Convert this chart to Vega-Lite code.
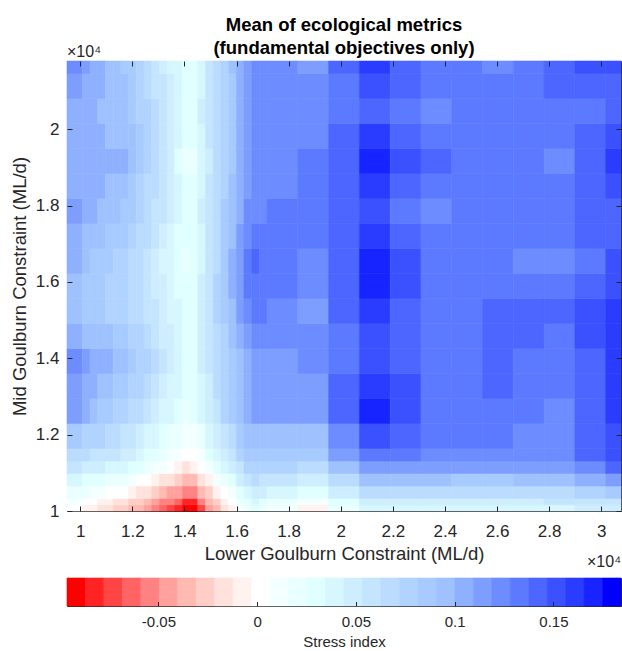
{
  "$schema": "https://vega.github.io/schema/vega-lite/v6.json",
  "background": "white",
  "padding": {"left": 9, "top": 15, "right": 0, "bottom": 0},
  "config": {
    "font": "Liberation Sans",
    "view": {"stroke": "#262626", "strokeWidth": 1},
    "axis": {"domain": false, "grid": false, "zindex": 2, "offset": -5, "tickColor": "#262626", "tickSize": 5, "tickWidth": 1, "labelColor": "#262626", "labelFont": "Liberation Sans", "labelFontSize": 17, "titleFont": "Liberation Sans", "titleFontSize": 18.5, "titleFontWeight": "normal", "titleColor": "#262626"}
  },
  "datasets": {
    "grid": [
      {"y0": 10000, "y1": 10164, "x0": [9490,10081,10376,10672,10967,11263,11558,11854,12149,12444,12740,13035,13331,13626,13922,14217,14513,14808,15104,15399,15695,15990,16285,16581,16876,17171,18353,19535,20717,21898,23080,24262,25443,26625,27807,28989,30170], "x1": [10081,10376,10672,10967,11263,11558,11854,12149,12444,12740,13035,13331,13626,13922,14217,14513,14808,15104,15399,15695,15990,16285,16581,16876,17171,18353,19535,20717,21898,23080,24262,25443,26625,27807,28989,30170,30760], "band": [10,9,9,8,8,7,7,6,6,5,4,3,2,1,0,0,2,5,6,8,9,11,12,13,12,11,9,12,14,14,14,14,14,14,14,15,15]},
      {"y0": 10164, "y1": 10328, "x0": [9490,10081,10376,10672,10967,11263,11558,11854,12149,12444,12740,13035,13331,13626,13922,14217,14513,14808,15104,15399,15695,15990,16285,16581,16876,17171,18353,19535,20717,21898,23080,24262,25443,26625,27807,28989,30170], "x1": [10081,10376,10672,10967,11263,11558,11854,12149,12444,12740,13035,13331,13626,13922,14217,14513,14808,15104,15399,15695,15990,16285,16581,16876,17171,18353,19535,20717,21898,23080,24262,25443,26625,27807,28989,30170,30760], "band": [11,10,10,9,9,8,8,7,7,6,5,4,4,3,1,1,4,6,7,9,10,12,13,14,13,12,11,13,15,15,15,15,15,15,16,16,16]},
      {"y0": 10328, "y1": 10655, "x0": [9490,10081,10376,10672,10967,11263,11558,11854,12149,12444,12740,13035,13331,13626,13922,14217,14513,14808,15104,15399,15695,15990,16285,16581,16876,17171,18353,19535,20717,21898,23080,24262,25443,26625,27807,28989,30170], "x1": [10081,10376,10672,10967,11263,11558,11854,12149,12444,12740,13035,13331,13626,13922,14217,14513,14808,15104,15399,15695,15990,16285,16581,16876,17171,18353,19535,20717,21898,23080,24262,25443,26625,27807,28989,30170,30760], "band": [12,12,11,11,10,10,10,9,8,8,7,6,5,5,4,4,6,7,9,10,11,13,14,15,15,14,13,15,17,17,17,17,17,17,17,18,19]},
      {"y0": 10655, "y1": 10983, "x0": [9490,10081,10376,10672,10967,11263,11558,11854,12149,12444,12740,13035,13331,13626,13922,14217,14513,14808,15104,15399,15695,15990,16285,16581,16876,17171,18353,19535,20717,21898,23080,24262,25443,26625,27807,28989,30170], "x1": [10081,10376,10672,10967,11263,11558,11854,12149,12444,12740,13035,13331,13626,13922,14217,14513,14808,15104,15399,15695,15990,16285,16581,16876,17171,18353,19535,20717,21898,23080,24262,25443,26625,27807,28989,30170,30760], "band": [14,13,13,13,12,12,12,11,10,10,9,8,8,7,6,6,8,9,11,12,13,15,16,17,16,16,15,17,20,20,20,19,19,20,20,21,22]},
      {"y0": 10983, "y1": 11310, "x0": [9490,10081,10376,10672,10967,11263,11558,11854,12149,12444,12740,13035,13331,13626,13922,14217,14513,14808,15104,15399,15695,15990,16285,16581,16876,17171,18353,19535,20717,21898,23080,24262,25443,26625,27807,28989,30170], "x1": [10081,10376,10672,10967,11263,11558,11854,12149,12444,12740,13035,13331,13626,13922,14217,14513,14808,15104,15399,15695,15990,16285,16581,16876,17171,18353,19535,20717,21898,23080,24262,25443,26625,27807,28989,30170,30760], "band": [16,15,15,15,14,14,14,13,13,12,11,11,10,9,8,9,10,11,13,14,15,16,18,18,18,18,17,20,22,22,22,22,22,22,22,23,25]},
      {"y0": 11310, "y1": 11638, "x0": [9490,10081,10376,10672,10967,11263,11558,11854,12149,12444,12740,13035,13331,13626,13922,14217,14513,14808,15104,15399,15695,15990,16285,16581,16876,17171,18353,19535,20717,21898,23080,24262,25443,26625,27807,28989,30170], "x1": [10081,10376,10672,10967,11263,11558,11854,12149,12444,12740,13035,13331,13626,13922,14217,14513,14808,15104,15399,15695,15990,16285,16581,16876,17171,18353,19535,20717,21898,23080,24262,25443,26625,27807,28989,30170,30760], "band": [17,17,16,16,16,16,15,15,14,13,13,12,11,11,10,10,11,13,14,15,16,18,19,19,19,19,19,22,24,24,23,23,23,23,23,25,26]},
      {"y0": 11638, "y1": 12293, "x0": [9490,10081,10376,10672,10967,11263,11558,11854,12149,12444,12740,13035,13331,13626,13922,14217,14513,14808,15104,15399,15695,15990,16285,16581,16876,17171,18353,19535,20717,21898,23080,24262,25443,26625,27807,28989,30170], "x1": [10081,10376,10672,10967,11263,11558,11854,12149,12444,12740,13035,13331,13626,13922,14217,14513,14808,15104,15399,15695,15990,16285,16581,16876,17171,18353,19535,20717,21898,23080,24262,25443,26625,27807,28989,30170,30760], "band": [19,18,18,18,17,17,16,16,15,14,14,13,12,12,11,11,12,14,15,16,17,19,20,20,20,20,20,23,26,25,24,24,24,23,23,25,26]},
      {"y0": 12293, "y1": 12948, "x0": [9490,10081,10376,10672,10967,11263,11558,11854,12149,12444,12740,13035,13331,13626,13922,14217,14513,14808,15104,15399,15695,15990,16285,16581,16876,17171,18353,19535,20717,21898,23080,24262,25443,26625,27807,28989,30170], "x1": [10081,10376,10672,10967,11263,11558,11854,12149,12444,12740,13035,13331,13626,13922,14217,14513,14808,15104,15399,15695,15990,16285,16581,16876,17171,18353,19535,20717,21898,23080,24262,25443,26625,27807,28989,30170,30760], "band": [22,21,20,19,19,18,18,17,17,16,15,14,14,13,12,13,14,15,16,18,19,20,21,22,22,22,22,25,28,26,24,24,24,24,23,25,27]},
      {"y0": 12948, "y1": 13603, "x0": [9490,10081,10376,10672,10967,11263,11558,11854,12149,12444,12740,13035,13331,13626,13922,14217,14513,14808,15104,15399,15695,15990,16285,16581,16876,17171,18353,19535,20717,21898,23080,24262,25443,26625,27807,28989,30170], "x1": [10081,10376,10672,10967,11263,11558,11854,12149,12444,12740,13035,13331,13626,13922,14217,14513,14808,15104,15399,15695,15990,16285,16581,16876,17171,18353,19535,20717,21898,23080,24262,25443,26625,27807,28989,30170,30760], "band": [22,21,21,20,20,19,19,18,18,17,16,15,14,14,13,13,14,15,17,18,19,20,21,22,22,22,22,25,27,26,24,24,25,24,24,25,27]},
      {"y0": 13603, "y1": 14258, "x0": [9490,10081,10376,10672,10967,11263,11558,11854,12149,12444,12740,13035,13331,13626,13922,14217,14513,14808,15104,15399,15695,15990,16285,16581,16876,17171,18353,19535,20717,21898,23080,24262,25443,26625,27807,28989,30170], "x1": [10081,10376,10672,10967,11263,11558,11854,12149,12444,12740,13035,13331,13626,13922,14217,14513,14808,15104,15399,15695,15990,16285,16581,16876,17171,18353,19535,20717,21898,23080,24262,25443,26625,27807,28989,30170,30760], "band": [23,22,21,21,21,20,20,19,18,18,17,16,15,14,13,13,15,16,17,18,19,20,21,22,22,22,23,24,26,25,24,24,25,24,24,25,27]},
      {"y0": 14258, "y1": 14913, "x0": [9490,10081,10376,10672,10967,11263,11558,11854,12149,12444,12740,13035,13331,13626,13922,14217,14513,14808,15104,15399,15695,15990,16285,16581,16876,17171,18353,19535,20717,21898,23080,24262,25443,26625,27807,28989,30170], "x1": [10081,10376,10672,10967,11263,11558,11854,12149,12444,12740,13035,13331,13626,13922,14217,14513,14808,15104,15399,15695,15990,16285,16581,16876,17171,18353,19535,20717,21898,23080,24262,25443,26625,27807,28989,30170,30760], "band": [21,20,20,20,20,19,19,18,18,17,16,15,15,14,13,13,15,16,17,18,20,21,22,23,23,23,23,24,26,25,24,24,25,25,24,26,27]},
      {"y0": 14913, "y1": 15568, "x0": [9490,10081,10376,10672,10967,11263,11558,11854,12149,12444,12740,13035,13331,13626,13922,14217,14513,14808,15104,15399,15695,15990,16285,16581,16876,17171,18353,19535,20717,21898,23080,24262,25443,26625,27807,28989,30170], "x1": [10081,10376,10672,10967,11263,11558,11854,12149,12444,12740,13035,13331,13626,13922,14217,14513,14808,15104,15399,15695,15990,16285,16581,16876,17171,18353,19535,20717,21898,23080,24262,25443,26625,27807,28989,30170,30760], "band": [20,19,19,19,18,18,18,17,17,16,16,15,14,14,13,13,15,16,18,19,20,22,23,24,24,23,22,25,27,25,24,24,25,25,25,26,27]},
      {"y0": 15568, "y1": 16223, "x0": [9490,10081,10376,10672,10967,11263,11558,11854,12149,12444,12740,13035,13331,13626,13922,14217,14513,14808,15104,15399,15695,15990,16285,16581,16876,17171,18353,19535,20717,21898,23080,24262,25443,26625,27807,28989,30170], "x1": [10081,10376,10672,10967,11263,11558,11854,12149,12444,12740,13035,13331,13626,13922,14217,14513,14808,15104,15399,15695,15990,16285,16581,16876,17171,18353,19535,20717,21898,23080,24262,25443,26625,27807,28989,30170,30760], "band": [20,19,19,19,18,18,18,17,17,16,15,15,14,13,13,13,15,16,18,19,21,22,24,24,24,24,23,25,28,26,24,24,24,24,24,25,26]},
      {"y0": 16223, "y1": 16878, "x0": [9490,10081,10376,10672,10967,11263,11558,11854,12149,12444,12740,13035,13331,13626,13922,14217,14513,14808,15104,15399,15695,15990,16285,16581,16876,17171,18353,19535,20717,21898,23080,24262,25443,26625,27807,28989,30170], "x1": [10081,10376,10672,10967,11263,11558,11854,12149,12444,12740,13035,13331,13626,13922,14217,14513,14808,15104,15399,15695,15990,16285,16581,16876,17171,18353,19535,20717,21898,23080,24262,25443,26625,27807,28989,30170,30760], "band": [21,20,19,19,19,18,18,17,17,16,15,14,14,13,12,13,14,16,17,19,21,22,24,25,24,24,23,25,28,26,24,24,24,23,23,24,26]},
      {"y0": 16878, "y1": 17533, "x0": [9490,10081,10376,10672,10967,11263,11558,11854,12149,12444,12740,13035,13331,13626,13922,14217,14513,14808,15104,15399,15695,15990,16285,16581,16876,17171,18353,19535,20717,21898,23080,24262,25443,26625,27807,28989,30170], "x1": [10081,10376,10672,10967,11263,11558,11854,12149,12444,12740,13035,13331,13626,13922,14217,14513,14808,15104,15399,15695,15990,16285,16581,16876,17171,18353,19535,20717,21898,23080,24262,25443,26625,27807,28989,30170,30760], "band": [21,20,20,20,19,19,19,18,17,17,16,15,14,13,13,13,14,16,17,19,20,22,23,24,24,24,24,25,27,25,24,24,24,24,24,25,25]},
      {"y0": 17533, "y1": 18188, "x0": [9490,10081,10376,10672,10967,11263,11558,11854,12149,12444,12740,13035,13331,13626,13922,14217,14513,14808,15104,15399,15695,15990,16285,16581,16876,17171,18353,19535,20717,21898,23080,24262,25443,26625,27807,28989,30170], "x1": [10081,10376,10672,10967,11263,11558,11854,12149,12444,12740,13035,13331,13626,13922,14217,14513,14808,15104,15399,15695,15990,16285,16581,16876,17171,18353,19535,20717,21898,23080,24262,25443,26625,27807,28989,30170,30760], "band": [22,21,21,20,20,20,19,19,18,17,16,16,15,14,13,13,15,16,17,19,20,21,23,23,23,24,24,25,26,24,23,24,24,24,24,25,25]},
      {"y0": 18188, "y1": 18843, "x0": [9490,10081,10376,10672,10967,11263,11558,11854,12149,12444,12740,13035,13331,13626,13922,14217,14513,14808,15104,15399,15695,15990,16285,16581,16876,17171,18353,19535,20717,21898,23080,24262,25443,26625,27807,28989,30170], "x1": [10081,10376,10672,10967,11263,11558,11854,12149,12444,12740,13035,13331,13626,13922,14217,14513,14808,15104,15399,15695,15990,16285,16581,16876,17171,18353,19535,20717,21898,23080,24262,25443,26625,27807,28989,30170,30760], "band": [21,21,21,21,20,20,20,19,18,17,17,16,15,14,13,13,14,16,17,18,20,21,22,23,23,23,24,25,27,25,24,24,24,24,24,25,26]},
      {"y0": 18843, "y1": 19498, "x0": [9490,10081,10376,10672,10967,11263,11558,11854,12149,12444,12740,13035,13331,13626,13922,14217,14513,14808,15104,15399,15695,15990,16285,16581,16876,17171,18353,19535,20717,21898,23080,24262,25443,26625,27807,28989,30170], "x1": [10081,10376,10672,10967,11263,11558,11854,12149,12444,12740,13035,13331,13626,13922,14217,14513,14808,15104,15399,15695,15990,16285,16581,16876,17171,18353,19535,20717,21898,23080,24262,25443,26625,27807,28989,30170,30760], "band": [21,21,21,21,21,21,21,20,19,18,17,16,15,13,12,12,14,15,17,18,19,21,22,23,23,23,24,25,28,26,25,24,24,24,23,25,27]},
      {"y0": 19498, "y1": 20153, "x0": [9490,10081,10376,10672,10967,11263,11558,11854,12149,12444,12740,13035,13331,13626,13922,14217,14513,14808,15104,15399,15695,15990,16285,16581,16876,17171,18353,19535,20717,21898,23080,24262,25443,26625,27807,28989,30170], "x1": [10081,10376,10672,10967,11263,11558,11854,12149,12444,12740,13035,13331,13626,13922,14217,14513,14808,15104,15399,15695,15990,16285,16581,16876,17171,18353,19535,20717,21898,23080,24262,25443,26625,27807,28989,30170,30760], "band": [21,21,21,21,20,20,20,20,19,18,17,16,15,14,13,13,14,16,17,18,19,21,22,23,23,23,23,25,27,25,24,24,24,24,24,25,26]},
      {"y0": 20153, "y1": 20808, "x0": [9490,10081,10376,10672,10967,11263,11558,11854,12149,12444,12740,13035,13331,13626,13922,14217,14513,14808,15104,15399,15695,15990,16285,16581,16876,17171,18353,19535,20717,21898,23080,24262,25443,26625,27807,28989,30170], "x1": [10081,10376,10672,10967,11263,11558,11854,12149,12444,12740,13035,13331,13626,13922,14217,14513,14808,15104,15399,15695,15990,16285,16581,16876,17171,18353,19535,20717,21898,23080,24262,25443,26625,27807,28989,30170,30760], "band": [21,21,21,20,20,20,20,19,18,18,17,16,15,14,13,13,15,16,17,18,19,21,22,23,23,23,23,24,25,24,23,24,24,24,24,24,25]},
      {"y0": 20808, "y1": 21463, "x0": [9490,10081,10376,10672,10967,11263,11558,11854,12149,12444,12740,13035,13331,13626,13922,14217,14513,14808,15104,15399,15695,15990,16285,16581,16876,17171,18353,19535,20717,21898,23080,24262,25443,26625,27807,28989,30170], "x1": [10081,10376,10672,10967,11263,11558,11854,12149,12444,12740,13035,13331,13626,13922,14217,14513,14808,15104,15399,15695,15990,16285,16581,16876,17171,18353,19535,20717,21898,23080,24262,25443,26625,27807,28989,30170,30760], "band": [22,21,21,21,20,20,20,19,18,17,16,16,15,14,13,13,14,16,17,18,19,21,22,23,23,23,23,24,26,25,24,24,24,24,25,25,25]},
      {"y0": 21463, "y1": 21790, "x0": [9490,10081,10376,10672,10967,11263,11558,11854,12149,12444,12740,13035,13331,13626,13922,14217,14513,14808,15104,15399,15695,15990,16285,16581,16876,17171,18353,19535,20717,21898,23080,24262,25443,26625,27807,28989,30170], "x1": [10081,10376,10672,10967,11263,11558,11854,12149,12444,12740,13035,13331,13626,13922,14217,14513,14808,15104,15399,15695,15990,16285,16581,16876,17171,18353,19535,20717,21898,23080,24262,25443,26625,27807,28989,30170,30760], "band": [23,22,21,21,20,20,19,19,18,17,16,15,14,14,13,13,14,16,17,18,20,21,22,23,23,23,22,25,27,25,24,24,23,24,25,26,26]}
    ],
    "bands": [
      {"band": 0, "from": -0.0963, "to": -0.08695, "level": -0.0916},
      {"band": 1, "from": -0.08695, "to": -0.0776, "level": -0.0823},
      {"band": 2, "from": -0.0776, "to": -0.06825, "level": -0.0729},
      {"band": 3, "from": -0.06825, "to": -0.0589, "level": -0.0636},
      {"band": 4, "from": -0.0589, "to": -0.04955, "level": -0.0542},
      {"band": 5, "from": -0.04955, "to": -0.0402, "level": -0.0449},
      {"band": 6, "from": -0.0402, "to": -0.03085, "level": -0.0355},
      {"band": 7, "from": -0.03085, "to": -0.0215, "level": -0.0262},
      {"band": 8, "from": -0.0215, "to": -0.01215, "level": -0.0168},
      {"band": 9, "from": -0.01215, "to": -0.0028, "level": -0.0075},
      {"band": 10, "from": -0.0028, "to": 0.00655, "level": 0.0019},
      {"band": 11, "from": 0.00655, "to": 0.0159, "level": 0.0112},
      {"band": 12, "from": 0.0159, "to": 0.02525, "level": 0.0206},
      {"band": 13, "from": 0.02525, "to": 0.0346, "level": 0.0299},
      {"band": 14, "from": 0.0346, "to": 0.04395, "level": 0.0393},
      {"band": 15, "from": 0.04395, "to": 0.0533, "level": 0.0486},
      {"band": 16, "from": 0.0533, "to": 0.06265, "level": 0.058},
      {"band": 17, "from": 0.06265, "to": 0.072, "level": 0.0673},
      {"band": 18, "from": 0.072, "to": 0.08135, "level": 0.0767},
      {"band": 19, "from": 0.08135, "to": 0.0907, "level": 0.086},
      {"band": 20, "from": 0.0907, "to": 0.10005, "level": 0.0954},
      {"band": 21, "from": 0.10005, "to": 0.1094, "level": 0.1047},
      {"band": 22, "from": 0.1094, "to": 0.11875, "level": 0.1141},
      {"band": 23, "from": 0.11875, "to": 0.1281, "level": 0.1234},
      {"band": 24, "from": 0.1281, "to": 0.13745, "level": 0.1328},
      {"band": 25, "from": 0.13745, "to": 0.1468, "level": 0.1421},
      {"band": 26, "from": 0.1468, "to": 0.15615, "level": 0.1515},
      {"band": 27, "from": 0.15615, "to": 0.1655, "level": 0.1608},
      {"band": 28, "from": 0.1655, "to": 0.17485, "level": 0.1702},
      {"band": 29, "from": 0.17485, "to": 0.1842, "level": 0.1795}
    ]
  },
  "spacing": 67,
  "bounds": "flush",
  "vconcat": [
    {
      "width": 554,
      "height": 450,
      "title": {"text": ["Mean of ecological metrics", "(fundamental objectives only)"], "fontSize": 18.5, "fontWeight": "bold", "color": "#000000", "lineHeight": 23, "anchor": "middle", "frame": "group", "offset": -13},
      "layer": [
        {
          "data": {"name": "grid"},
          "transform": [
            {"flatten": ["x0", "x1", "band"]},
            {"lookup": "band", "from": {"data": {"name": "bands"}, "key": "band", "fields": ["level"]}}
          ],
          "mark": {"type": "rect", "strokeWidth": 0.6},
          "encoding": {
            "x": {"field": "x0", "type": "quantitative", "scale": {"domain": [9490, 30760], "nice": false, "zero": false}, "axis": {"orient": "bottom", "zindex": 2, "values": [10000, 12000, 14000, 16000, 18000, 20000, 22000, 24000, 26000, 28000, 30000], "labelExpr": "format(datum.value / 10000, '.1~f')", "labelPadding": 12, "title": "Lower Goulburn Constraint (ML/d)", "titlePadding": 5}},
            "x2": {"field": "x1"},
            "y": {"field": "y0", "type": "quantitative", "scale": {"domain": [10000, 21790], "nice": false, "zero": false}, "axis": {"orient": "left", "zindex": 2, "values": [10000, 12000, 14000, 16000, 18000, 20000], "labelExpr": "format(datum.value / 10000, '.1~f')", "labelPadding": 8, "title": "Mid Goulburn Constraint (ML/d)", "titlePadding": 6}},
            "y2": {"field": "y1"},
            "color": {"field": "level", "type": "quantitative", "title": "Stress index", "scale": {"type": "threshold", "domain": [-0.08695,-0.0776,-0.06825,-0.0589,-0.04955,-0.0402,-0.03085,-0.0215,-0.01215,-0.0028,0.00655,0.0159,0.02525,0.0346,0.04395,0.0533,0.06265,0.072,0.08135,0.0907,0.10005,0.1094,0.11875,0.1281,0.13745,0.1468,0.15615,0.1655,0.17485], "range": ["#ff0000","#ff2323","#ff4444","#ff6363","#ff8282","#ffa19c","#ffbab2","#ffcfc7","#ffe2dc","#fff2ef","#ffffff","#f4ffff","#eaffff","#e0ffff","#d7f7ff","#ceeeff","#c5e5ff","#bbdcff","#b1d3ff","#a8cbff","#9fc2ff","#8eb0ff","#7e9eff","#6d8cff","#5c7aff","#4c66ff","#3b51ff","#2a3cff","#1824ff","#0000ff"]}, "legend": null},
            "stroke": {"field": "level", "type": "quantitative", "scale": {"type": "threshold", "domain": [-0.08695,-0.0776,-0.06825,-0.0589,-0.04955,-0.0402,-0.03085,-0.0215,-0.01215,-0.0028,0.00655,0.0159,0.02525,0.0346,0.04395,0.0533,0.06265,0.072,0.08135,0.0907,0.10005,0.1094,0.11875,0.1281,0.13745,0.1468,0.15615,0.1655,0.17485], "range": ["#ff0000","#ff2323","#ff4444","#ff6363","#ff8282","#ffa19c","#ffbab2","#ffcfc7","#ffe2dc","#fff2ef","#ffffff","#f4ffff","#eaffff","#e0ffff","#d7f7ff","#ceeeff","#c5e5ff","#bbdcff","#b1d3ff","#a8cbff","#9fc2ff","#8eb0ff","#7e9eff","#6d8cff","#5c7aff","#4c66ff","#3b51ff","#2a3cff","#1824ff","#0000ff"]}, "legend": null}
          }
        },
        {
          "data": {"name": "grid"},
          "mark": {"type": "point", "opacity": 0},
          "encoding": {
            "x": {"field": "y0", "type": "quantitative", "axis": {"orient": "top", "zindex": 2, "values": [10000, 12000, 14000, 16000, 18000, 20000, 22000, 24000, 26000, 28000, 30000], "labels": false, "title": null}},
            "y": {"field": "y0", "type": "quantitative", "axis": {"orient": "right", "zindex": 2, "values": [10000, 12000, 14000, 16000, 18000, 20000], "labels": false, "title": null}}
          }
        },
        {
          "data": {"values": [{"note": "×10⁴"}]},
          "mark": {"type": "text", "align": "left", "baseline": "alphabetic", "dy": -4, "fontSize": 16, "color": "#262626"},
          "encoding": {
            "x": {"datum": 9490, "type": "quantitative", "axis": null},
            "y": {"datum": 21790, "type": "quantitative", "axis": null},
            "text": {"field": "note"}
          }
        },
        {
          "data": {"values": [{"note": "×10⁴"}]},
          "mark": {"type": "text", "align": "right", "baseline": "alphabetic", "dy": 56, "fontSize": 16, "color": "#262626"},
          "encoding": {
            "x": {"datum": 30760, "type": "quantitative", "axis": null},
            "y": {"datum": 10000, "type": "quantitative", "axis": null},
            "text": {"field": "note"}
          }
        }
      ],
      "resolve": {"axis": {"x": "independent", "y": "independent"}}
    },
    {
      "width": 554,
      "height": 28,
      "data": {"name": "bands"},
      "mark": {"type": "rect", "strokeWidth": 0.6},
      "encoding": {
        "x": {"field": "from", "type": "quantitative", "scale": {"domain": [-0.0963, 0.1842], "nice": false, "zero": false}, "axis": {"zindex": 2, "values": [-0.05, 0, 0.05, 0.1, 0.15], "labelExpr": "replace(format(datum.value, '~g'), '−', '-')", "offset": -4.5, "tickSize": 4.5, "labelPadding": 8.5, "labelFontSize": 15, "title": "Stress index", "titleFontSize": 15, "titlePadding": 5}},
        "x2": {"field": "to"},
        "color": {"field": "level", "type": "quantitative", "scale": {"type": "threshold", "domain": [-0.08695,-0.0776,-0.06825,-0.0589,-0.04955,-0.0402,-0.03085,-0.0215,-0.01215,-0.0028,0.00655,0.0159,0.02525,0.0346,0.04395,0.0533,0.06265,0.072,0.08135,0.0907,0.10005,0.1094,0.11875,0.1281,0.13745,0.1468,0.15615,0.1655,0.17485], "range": ["#ff0000","#ff2323","#ff4444","#ff6363","#ff8282","#ffa19c","#ffbab2","#ffcfc7","#ffe2dc","#fff2ef","#ffffff","#f4ffff","#eaffff","#e0ffff","#d7f7ff","#ceeeff","#c5e5ff","#bbdcff","#b1d3ff","#a8cbff","#9fc2ff","#8eb0ff","#7e9eff","#6d8cff","#5c7aff","#4c66ff","#3b51ff","#2a3cff","#1824ff","#0000ff"]}, "legend": null},
        "stroke": {"field": "level", "type": "quantitative", "scale": {"type": "threshold", "domain": [-0.08695,-0.0776,-0.06825,-0.0589,-0.04955,-0.0402,-0.03085,-0.0215,-0.01215,-0.0028,0.00655,0.0159,0.02525,0.0346,0.04395,0.0533,0.06265,0.072,0.08135,0.0907,0.10005,0.1094,0.11875,0.1281,0.13745,0.1468,0.15615,0.1655,0.17485], "range": ["#ff0000","#ff2323","#ff4444","#ff6363","#ff8282","#ffa19c","#ffbab2","#ffcfc7","#ffe2dc","#fff2ef","#ffffff","#f4ffff","#eaffff","#e0ffff","#d7f7ff","#ceeeff","#c5e5ff","#bbdcff","#b1d3ff","#a8cbff","#9fc2ff","#8eb0ff","#7e9eff","#6d8cff","#5c7aff","#4c66ff","#3b51ff","#2a3cff","#1824ff","#0000ff"]}, "legend": null}
      }
    }
  ]
}
